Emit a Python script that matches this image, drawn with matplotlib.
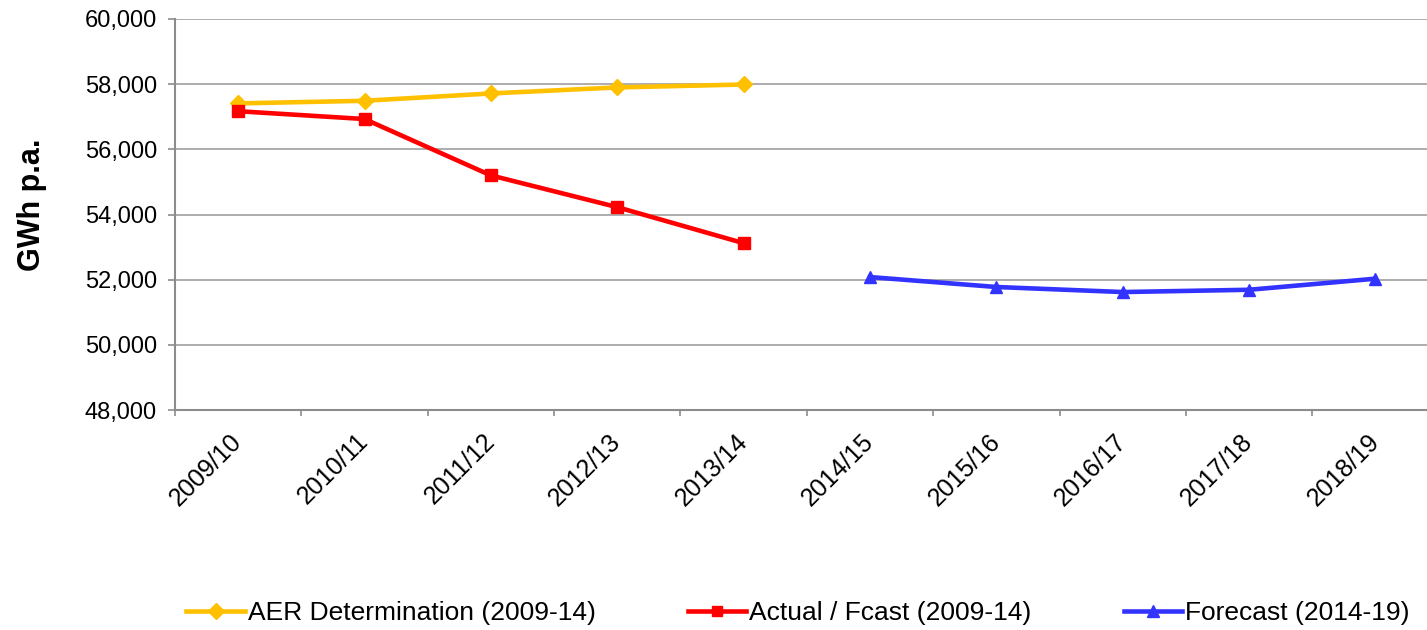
import matplotlib
matplotlib.use("Agg")
import matplotlib.pyplot as plt
from matplotlib.ticker import FuncFormatter, FixedLocator
import numpy as np

plt.rcParams['font.family'] = ['Liberation Sans', 'DejaVu Sans']

categories = ["2009/10", "2010/11", "2011/12", "2012/13", "2013/14",
              "2014/15", "2015/16", "2016/17", "2017/18", "2018/19"]
aer_values = [57410, 57490, 57715, 57900, 57990]
actual_values = [57170, 56930, 55200, 54225, 53120]
forecast_values = [52080, 51775, 51620, 51690, 52030]

aer_label = "AER Determination (2009-14)"
actual_label = "Actual / Fcast (2009-14)"
forecast_label = "Forecast (2014-19)"
y_label = "GWh p.a."

fig = plt.figure(figsize=(14.27, 6.3), dpi=100)
ax = fig.add_axes([175/1427, 1-410/630, 1263.6/1427, 391/630])

x = np.arange(len(categories))
ax.plot(x[:5], aer_values, color="#FFC000", lw=3.3, marker="D", ms=8.5,
        label=aer_label, zorder=3)
ax.plot(x[:5], actual_values, color="#FF0000", lw=3.3, marker="s", ms=8.5,
        label=actual_label, zorder=4)
ax.plot(x[5:], forecast_values, color="#3333FF", lw=3.3, marker="^", ms=9,
        label=forecast_label, zorder=3)

ax.set_xlim(-0.5, len(categories) - 0.5)
ax.set_ylim(48000, 60000)
ax.set_yticks(np.arange(48000, 60001, 2000))
ax.yaxis.set_major_formatter(FuncFormatter(lambda v, p: f"{int(v):,}"))
ax.grid(axis="y", color="#A0A0A0", lw=1.2)
ax.set_axisbelow(True)

ax.set_xticks(x)
ax.set_xticklabels(categories, rotation=45, ha="right", va="center",
                   rotation_mode="anchor", fontsize=18)
ax.xaxis.set_minor_locator(FixedLocator(np.arange(-0.5, len(categories), 1.0)))
ax.tick_params(axis="x", which="major", length=0, pad=20)
ax.tick_params(axis="x", which="minor", length=4.5, width=1.2, color="#8C8C8C", direction="out")
ax.tick_params(axis="y", length=5, width=1.2, color="#8C8C8C", direction="out", labelsize=17, pad=8)

for s in ["top", "right"]:
    ax.spines[s].set_visible(False)
for s in ["left", "bottom"]:
    ax.spines[s].set_color("#8C8C8C")
    ax.spines[s].set_linewidth(1.5)

ax.set_ylabel(y_label, fontsize=22, fontweight="bold")
ax.yaxis.set_label_coords(-0.101, 0.524)

fig.legend(loc="center", bbox_to_anchor=(798/1427, 1-613/630), ncol=3,
           frameon=False, fontsize=19, handlelength=2.2, handletextpad=0.12,
           columnspacing=3.5, markerscale=0.9)

fig.savefig("out.png", dpi=100)
